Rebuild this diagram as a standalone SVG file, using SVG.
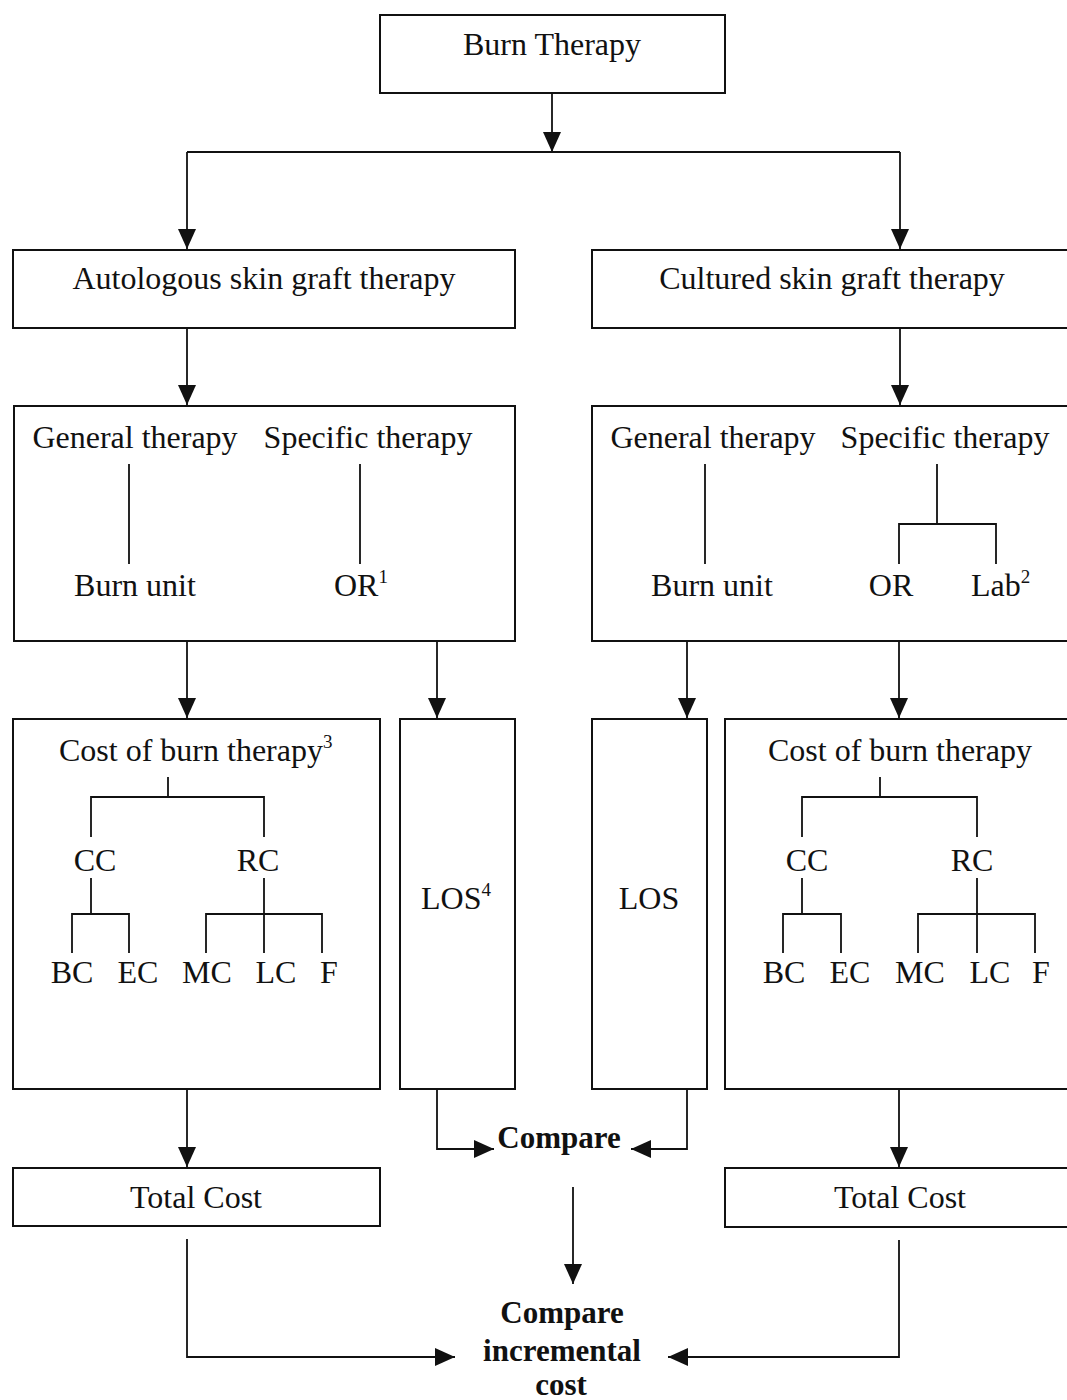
<svg xmlns="http://www.w3.org/2000/svg" width="1067" height="1400" viewBox="0 0 1067 1400">
<defs>
<style>
.box{fill:none;stroke:#111;stroke-width:2}
.ln{fill:none;stroke:#111;stroke-width:1.8}
.t{font-family:"Liberation Serif","Times New Roman",serif;font-size:32px;fill:#111;text-anchor:middle}
.s{text-anchor:start}
.b{font-weight:bold;font-size:31px}
.sup{font-size:19px}
</style>
<marker id="arr" viewBox="0 0 20 18" refX="20" refY="9" markerWidth="20" markerHeight="18" orient="auto" markerUnits="userSpaceOnUse">
<path d="M0,0 L20,9 L0,18 Z" fill="#111"/>
</marker>
</defs>
<rect width="1067" height="1400" fill="#fff"/>

<g id="burn-therapy">
<rect class="box" x="380" y="15" width="345" height="78"/>
<text class="t" x="552" y="55">Burn Therapy</text>
</g>

<g id="autologous">
<rect class="box" x="13" y="250" width="502" height="78"/>
<text class="t" x="264" y="289">Autologous skin graft therapy</text>
</g>

<g id="cultured">
<rect class="box" x="592" y="250" width="490" height="78"/>
<text class="t" x="832" y="289">Cultured skin graft therapy</text>
</g>

<g id="left-therapy">
<rect class="box" x="14" y="406" width="501" height="235"/>
<text class="t" x="135" y="448">General therapy</text>
<text class="t" x="368" y="448">Specific therapy</text>
<path class="ln" d="M129,464 V564 M360,464 V564"/>
<text class="t" x="135" y="596">Burn unit</text>
<text class="t s" x="334" y="596">OR<tspan class="sup" dy="-13">1</tspan></text>
</g>

<g id="right-therapy">
<rect class="box" x="592" y="406" width="490" height="235"/>
<text class="t" x="713" y="448">General therapy</text>
<text class="t" x="945" y="448">Specific therapy</text>
<path class="ln" d="M705,464 V564 M937,464 V524 M899,564 V524 H996 V564"/>
<text class="t" x="712" y="596">Burn unit</text>
<text class="t" x="891" y="596">OR</text>
<text class="t s" x="971" y="596">Lab<tspan class="sup" dy="-13">2</tspan></text>
</g>

<g id="left-cost">
<rect class="box" x="13" y="719" width="367" height="370"/>
<text class="t s" x="59" y="761">Cost of burn therapy<tspan class="sup" dy="-13">3</tspan></text>
<path class="ln" d="M168,777 V797 M91,837 V797 H264 V837 M91,878 V914 M72,953 V914 H129 V953 M264,878 V953 M206,953 V914 H322 V953"/>
<text class="t" x="95" y="871">CC</text>
<text class="t" x="258" y="871">RC</text>
<text class="t" x="72" y="983">BC</text>
<text class="t" x="138" y="983">EC</text>
<text class="t" x="207" y="983">MC</text>
<text class="t" x="276" y="983">LC</text>
<text class="t" x="329" y="983">F</text>
</g>

<g id="left-los">
<rect class="box" x="400" y="719" width="115" height="370"/>
<text class="t s" x="421" y="909">LOS<tspan class="sup" dy="-13">4</tspan></text>
</g>

<g id="right-los">
<rect class="box" x="592" y="719" width="115" height="370"/>
<text class="t" x="649" y="909">LOS</text>
</g>

<g id="right-cost">
<rect class="box" x="725" y="719" width="360" height="370"/>
<text class="t" x="900" y="761">Cost of burn therapy</text>
<path class="ln" d="M880,777 V797 M802,837 V797 H977 V837 M802,878 V914 M783,953 V914 H841 V953 M977,878 V953 M918,953 V914 H1035 V953"/>
<text class="t" x="807" y="871">CC</text>
<text class="t" x="972" y="871">RC</text>
<text class="t" x="784" y="983">BC</text>
<text class="t" x="850" y="983">EC</text>
<text class="t" x="920" y="983">MC</text>
<text class="t" x="990" y="983">LC</text>
<text class="t" x="1041" y="983">F</text>
</g>

<g id="left-total">
<rect class="box" x="13" y="1168" width="367" height="58"/>
<text class="t" x="196" y="1208">Total Cost</text>
</g>

<g id="right-total">
<rect class="box" x="725" y="1168" width="360" height="59"/>
<text class="t" x="900" y="1208">Total Cost</text>
</g>

<g id="compare">
<text class="t b" x="559" y="1148">Compare</text>
</g>

<g id="compare-incremental">
<text class="t b" x="562" y="1323">Compare</text>
<text class="t b" x="562" y="1361">incremental</text>
<text class="t b" x="561" y="1395">cost</text>
</g>

<g id="connectors">
<path class="ln" d="M552,93 V152" marker-end="url(#arr)"/>
<path class="ln" d="M187,152 H900"/>
<path class="ln" d="M187,152 V249" marker-end="url(#arr)"/>
<path class="ln" d="M900,152 V249" marker-end="url(#arr)"/>
<path class="ln" d="M187,328 V405" marker-end="url(#arr)"/>
<path class="ln" d="M900,328 V405" marker-end="url(#arr)"/>
<path class="ln" d="M187,641 V718" marker-end="url(#arr)"/>
<path class="ln" d="M437,641 V718" marker-end="url(#arr)"/>
<path class="ln" d="M687,641 V718" marker-end="url(#arr)"/>
<path class="ln" d="M899,641 V718" marker-end="url(#arr)"/>
<path class="ln" d="M187,1089 V1167" marker-end="url(#arr)"/>
<path class="ln" d="M899,1089 V1167" marker-end="url(#arr)"/>
<path class="ln" d="M437,1089 V1149 H494" marker-end="url(#arr)"/>
<path class="ln" d="M687,1089 V1149 H631" marker-end="url(#arr)"/>
<path class="ln" d="M573,1187 V1284" marker-end="url(#arr)"/>
<path class="ln" d="M187,1239 V1357 H455" marker-end="url(#arr)"/>
<path class="ln" d="M899,1240 V1357 H668" marker-end="url(#arr)"/>
</g>
</svg>
